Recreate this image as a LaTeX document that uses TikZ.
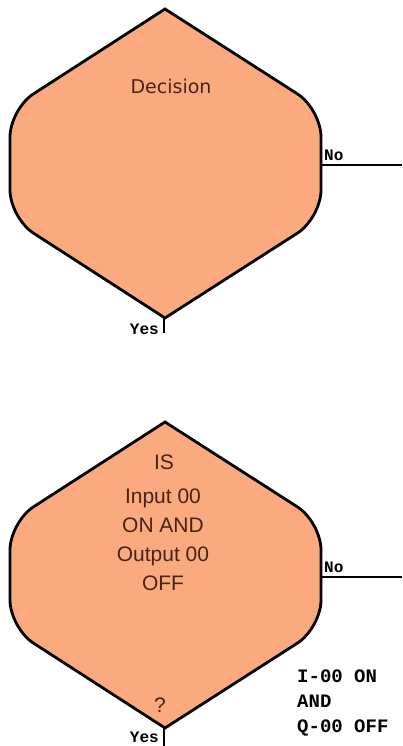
\documentclass[tikz,border=0pt]{standalone}
\usepackage{fontspec}
\setmainfont{Liberation Sans}
\newfontfamily\labfont{Liberation Mono}
\newfontfamily\decfont{DejaVu Sans}
\definecolor{salmon}{RGB}{250,170,126}
\definecolor{inkbrown}{RGB}{72,36,22}
\usetikzlibrary{positioning}

\begin{document}
\begin{tikzpicture}[x=1pt,y=-1pt,
  decbox/.style={draw=black, line width=2.8pt, fill=salmon},
  wire/.style={line width=2.8pt},
  intext/.style={text=inkbrown, font=\fontsize{21}{29}\selectfont, align=center},
  exitlab/.style={font=\labfont\bfseries\fontsize{16}{16}\selectfont, inner sep=1pt},
  note/.style={font=\labfont\bfseries\fontsize{19}{25}\selectfont, align=left, inner sep=0pt}]
  \useasboundingbox (0,0) rectangle (402,746);
  % first decision
  \draw[decbox] (165,9) [rounded corners=28pt] -- (10,109) -- (10,218) [sharp corners] -- (165,318)
    [rounded corners=28pt] -- (321,218) -- (321,109) [sharp corners] -- cycle;
  \coordinate (d1no) at (321,165);
  \coordinate (d1noend) at (402,165);
  \coordinate (d1yes) at (164,318);
  \coordinate (d1yesend) at (164,333);
  \node[intext, text=inkbrown, font=\decfont\fontsize{19}{19}\selectfont] (d1text) at (171,86) {Decision};
  \draw[wire] (d1no) -- (d1noend);
  \draw[wire] (d1yes) -- (d1yesend);
  \node[exitlab, anchor=south west] (d1nolab) at (323,162) {No};
  \node[exitlab, anchor=base east] (d1yeslab) at (160,334) {Yes};
  % second decision
  \draw[decbox] (165,422) [rounded corners=28pt] -- (10,522) -- (10,628) [sharp corners] -- (165,728)
    [rounded corners=28pt] -- (321,628) -- (321,522) [sharp corners] -- cycle;
  \coordinate (d2no) at (321,577);
  \coordinate (d2noend) at (402,577);
  \coordinate (d2yes) at (164,728);
  \coordinate (d2yesend) at (164,746);
  \node[intext] (d2is) at (164,462) {IS};
  \node[intext] (d2text) at (163,540) {Input 00\\ON AND\\Output 00\\OFF};
  \node[intext] (d2q) at (160,705) {?};
  \draw[wire] (d2no) -- (d2noend);
  \draw[wire] (d2yes) -- (d2yesend);
  \node[exitlab, anchor=south west] (d2nolab) at (323,574) {No};
  \node[exitlab, anchor=base east] (d2yeslab) at (160,742) {Yes};
  \node[note, anchor=north west] (d2note) at (297,670) {I-00 ON\\AND\\Q-00 OFF};
\end{tikzpicture}
\end{document}
